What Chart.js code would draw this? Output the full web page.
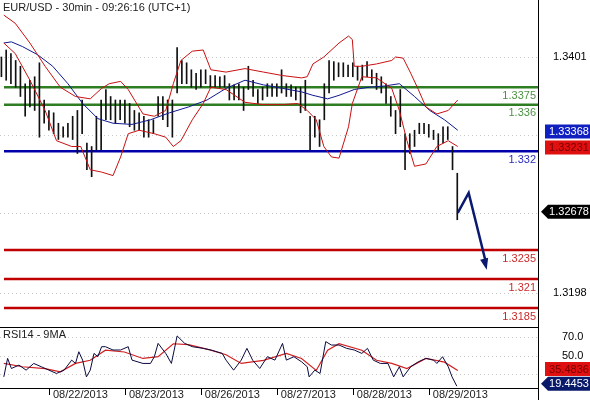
<!DOCTYPE html>
<html><head><meta charset="utf-8">
<script src="https://cdn.jsdelivr.net/npm/chart.js@4.4.0/dist/chart.umd.min.js"></script>
<style>html,body{margin:0;padding:0;background:#fff}#c{display:block}</style>
</head><body><div style="width:590px;height:400px"><canvas id="c"></canvas></div>
<script>
const highs=[1.3401,1.3407,1.3404,1.3398,1.3393,1.3378,1.3381,1.3384,1.3396,1.3364,1.3355,1.3353,1.3344,1.3341,1.3344,1.3350,1.3355,1.3364,1.3327,1.3324,1.3350,1.3364,1.3373,1.3367,1.3364,1.3364,1.3364,1.3361,1.3355,1.3353,1.3350,1.3347,1.3347,1.3367,1.3367,1.3364,1.3364,1.3409,1.3398,1.3396,1.3390,1.3387,1.3390,1.3390,1.3385,1.3385,1.3384,1.3385,1.3378,1.3377,1.3378,1.3375,1.3393,1.3381,1.3373,1.3375,1.3378,1.3378,1.3378,1.3390,1.3378,1.3377,1.3375,1.3375,1.3381,1.3350,1.3350,1.3347,1.3378,1.3398,1.3397,1.3396,1.3396,1.3394,1.3396,1.3393,1.3394,1.3397,1.3390,1.3387,1.3384,1.3378,1.3367,1.3355,1.3373,1.3335,1.3335,1.3338,1.3344,1.3344,1.3343,1.3338,1.3335,1.3341,1.3341,1.3324,1.3301];
const lows=[1.3384,1.3381,1.3378,1.3375,1.3367,1.3350,1.3358,1.3355,1.3332,1.3344,1.3338,1.3335,1.3330,1.3332,1.3332,1.3330,1.3318,1.3335,1.3304,1.3298,1.3321,1.3321,1.3347,1.3347,1.3344,1.3347,1.3344,1.3341,1.3338,1.3338,1.3332,1.3332,1.3335,1.3350,1.3347,1.3341,1.3332,1.3370,1.3378,1.3378,1.3375,1.3373,1.3375,1.3378,1.3375,1.3375,1.3375,1.3375,1.3364,1.3364,1.3364,1.3355,1.3373,1.3367,1.3361,1.3364,1.3367,1.3367,1.3367,1.3370,1.3367,1.3367,1.3364,1.3353,1.3355,1.3321,1.3332,1.3324,1.3347,1.3370,1.3381,1.3384,1.3384,1.3384,1.3384,1.3381,1.3381,1.3384,1.3378,1.3373,1.3370,1.3361,1.3350,1.3335,1.3341,1.3304,1.3318,1.3324,1.3335,1.3335,1.3332,1.3330,1.3321,1.3327,1.3330,1.3304,1.3261];
const maX=[0.5,2.1,4.4,7.6,10.8,14.0,17.1,20.3,23.5,27.5,31.4,35.4,39.4,43.3,47.3,51.3,55.2,59.2,63.2,65.6,68.7,71.1,74.3,77.5,80.6,83.8,87.0,90.2,93.3,96.1];
const maY=[1.3413,1.3414,1.3410,1.3403,1.3393,1.3378,1.3361,1.3348,1.3344,1.3343,1.3347,1.3353,1.3358,1.3364,1.3374,1.3381,1.3377,1.3374,1.3371,1.3368,1.3365,1.3368,1.3373,1.3375,1.3376,1.3378,1.3367,1.3355,1.3347,1.3338];
const upX=[0.5,2.9,6.0,9.2,12.4,15.6,18.7,21.1,22.7,25.1,26.7,29.8,32.2,34.6,36.2,37.8,40.2,42.5,44.1,47.3,51.3,55.2,59.2,63.2,64.4,65.6,67.9,71.1,73.1,73.9,74.3,75.9,79.0,82.2,83.0,84.6,86.2,87.8,89.4,91.7,94.1,96.1];
const upY=[1.3437,1.3430,1.3413,1.3393,1.3375,1.3367,1.3365,1.3374,1.3378,1.3380,1.3373,1.3352,1.3350,1.3355,1.3378,1.3398,1.3406,1.3407,1.3390,1.3388,1.3391,1.3388,1.3385,1.3383,1.3384,1.3395,1.3401,1.3413,1.3419,1.3416,1.3393,1.3393,1.3395,1.3398,1.3401,1.3400,1.3387,1.3373,1.3358,1.3352,1.3355,1.3364];
const loX=[0.5,2.9,6.0,9.2,11.6,14.8,16.7,18.7,21.1,23.5,25.1,26.7,29.0,32.2,34.6,36.2,37.8,40.2,42.5,44.1,47.3,51.3,55.2,59.2,62.4,64.4,66.3,67.9,69.5,71.1,73.1,73.9,75.9,79.0,82.2,83.8,85.4,87.0,89.4,91.7,94.1,96.1];
const loY=[1.3413,1.3404,1.3381,1.3355,1.3329,1.3324,1.3324,1.3304,1.3302,1.3299,1.3315,1.3335,1.3338,1.3335,1.3332,1.3324,1.3329,1.3347,1.3361,1.3375,1.3373,1.3362,1.3360,1.3360,1.3361,1.3355,1.3347,1.3324,1.3315,1.3314,1.3341,1.3361,1.3384,1.3383,1.3374,1.3355,1.3329,1.3307,1.3309,1.3324,1.3329,1.3324];
const rsiX=[0.5,1.3,2.1,3.7,5.2,6.8,8.4,10.0,11.6,13.2,14.8,15.6,16.3,17.1,17.9,18.7,19.5,20.3,21.1,21.9,23.5,25.1,26.7,27.5,29.8,31.4,32.2,33.0,34.6,35.8,37.0,38.6,40.2,42.5,44.1,46.5,47.3,48.9,50.5,51.7,52.9,54.4,56.0,57.6,59.2,60.0,61.6,63.2,64.4,64.8,66.0,67.1,68.3,69.5,71.1,72.7,74.3,75.9,77.1,78.3,79.8,81.4,82.6,83.8,84.6,86.2,87.8,89.4,91.0,91.7,92.9,94.1,94.9,95.9];
const rsiY=[27.0,47.1,36.1,39.8,34.3,41.6,38.0,34.3,30.7,34.3,45.2,41.6,54.3,45.2,27.0,34.3,52.5,48.9,59.8,59.8,56.2,56.2,59.8,45.2,41.6,41.6,48.9,63.4,52.5,41.6,71.5,63.4,59.8,58.0,56.2,52.5,45.2,34.3,45.2,58.0,45.2,36.1,48.9,45.2,63.4,45.2,48.9,43.4,38.0,27.0,34.3,30.7,65.3,61.6,61.6,58.0,56.2,52.5,58.0,45.2,41.6,41.6,27.0,38.0,27.0,38.0,43.4,47.1,45.2,41.6,48.9,38.0,27.0,16.9];
const rmaX=[0.5,4.4,9.2,12.4,15.6,18.7,21.9,25.9,29.8,33.0,36.2,39.4,44.1,47.3,50.5,55.2,60.0,63.2,66.3,68.7,71.1,75.9,79.0,82.2,85.4,89.4,93.3,96.1];
const rmaY=[41.6,38,36,32.5,41.6,45,56,54,47,49,63,62,56,51,41.6,45,52.5,47,34,56,63,56,45,41.6,36,47,43,34];
const arrowX=[96.1,98.4,102.2];
const arrowY=[1.3267,1.3284,1.3218];
const levels=[1.3375,1.336,1.332,1.3235,1.321,1.3185];
const levelLabels=['1.3375','1.336','1.332','1.3235','1.321','1.3185'];
const levelColors=['#2e7d22','#2e7d22','#0000aa','#c00000','#c00000','#c00000'];
const priceGrid=[1.3401,1.3334,1.3267,1.3198];
const rsiGrid=[70,50,30];
const dayPos=[10,26,42,58,74,90];
const dayLabels=['08/22/2013','08/23/2013','08/26/2013','08/27/2013','08/28/2013','08/29/2013'];
const badges=[['y',1.33368,'1.33368','#1020c0','#fff',false],['y',1.33231,'1.33231','#e01010','#700',false],['y',1.32678,'1.32678','#000','#fff',true],['y2',35.4836,'35.4836','#e01010','#700',false],['y2',19.4453,'19.4453','#0a1a6a','#fff',true]];

const pts=(xs,ys)=>xs.map((x,i)=>({x,y:ys[i]}));
const bars=highs.map((h,i)=>({x:i,y:[lows[i],h]}));
const line=(d,c,axis,w)=>({type:'line',data:d,borderColor:c,borderWidth:w||1,pointRadius:0,yAxisID:axis,tension:0,fill:false});
const XMIN=-0.3,XMAX=113;
const FONT='11px "Liberation Sans", Arial, sans-serif';

const deco={id:'deco',
 beforeDatasetsDraw(ch){const c=ch.ctx,a=ch.chartArea,y=ch.scales.y,r=ch.scales.y2;
  c.save();c.strokeStyle='#c8c8c8';c.setLineDash([1,3]);c.lineWidth=1;
  priceGrid.forEach(v=>{const py=Math.round(y.getPixelForValue(v))+.5;c.beginPath();c.moveTo(a.left,py);c.lineTo(a.right,py);c.stroke();});
  rsiGrid.forEach(v=>{const py=Math.round(r.getPixelForValue(v))+.5;c.beginPath();c.moveTo(a.left,py);c.lineTo(a.right,py);c.stroke();});
  c.setLineDash([]);
  levels.forEach((v,i)=>{const py=y.getPixelForValue(v);c.strokeStyle=levelColors[i];c.lineWidth=2.5;c.beginPath();c.moveTo(a.left+4,py);c.lineTo(a.right,py);c.stroke();
   c.fillStyle=levelColors[i];c.font=FONT;c.textAlign='right';c.textBaseline='top';c.globalAlpha=0.85;c.fillText(levelLabels[i],a.right-2,py+3);c.globalAlpha=1;});
  c.restore();},
 afterDatasetsDraw(ch){const c=ch.ctx,a=ch.chartArea,x=ch.scales.x,y=ch.scales.y,r=ch.scales.y2;
  c.save();
  const ax=arrowX.map(v=>x.getPixelForValue(v)),ay=arrowY.map(v=>y.getPixelForValue(v));
  c.strokeStyle='#0a1a70';c.lineWidth=2.5;c.beginPath();c.moveTo(ax[0],ay[0]);c.lineTo(ax[1],ay[1]);c.lineTo(ax[2]-1,ay[2]-8);c.stroke();
  const ang=Math.atan2(ay[2]-ay[1],ax[2]-ax[1]);c.fillStyle='#0a1a70';c.beginPath();c.moveTo(ax[2],ay[2]);
  c.lineTo(ax[2]-12*Math.cos(ang-0.35),ay[2]-12*Math.sin(ang-0.35));c.lineTo(ax[2]-12*Math.cos(ang+0.35),ay[2]-12*Math.sin(ang+0.35));c.closePath();c.fill();
  c.strokeStyle='#000';c.lineWidth=1;c.beginPath();
  c.moveTo(a.right+.5,0);c.lineTo(a.right+.5,400);
  const sep=Math.round(r.getPixelForValue(81.2))+.5;c.moveTo(0,sep);c.lineTo(a.right,sep);
  c.moveTo(0,a.bottom+.5);c.lineTo(a.right,a.bottom+.5);
  dayPos.forEach(d=>{const px=Math.round(x.getPixelForValue(d))+.5;c.moveTo(px,a.bottom);c.lineTo(px,a.bottom+7);});
  c.stroke();
  c.font=FONT;c.fillStyle='#222';c.textBaseline='middle';c.textAlign='left';
  dayLabels.forEach((t,i)=>c.fillText(t,x.getPixelForValue(dayPos[i])+4,a.bottom+7));
  c.fillText('EUR/USD - 30min - 09:26:16 (UTC+1)',3,8);
  c.fillText('RSI14 - 9MA',3,sep+7);
  c.fillStyle='#000';
  [1.3401,1.3198].forEach(v=>c.fillText(v.toFixed(4),553,y.getPixelForValue(v)));
  [70,50].forEach(v=>c.fillText(v.toFixed(1),562,r.getPixelForValue(v)));
  badges.forEach(([ax2,v,t,bg,fg,arrow])=>{const s=ch.scales[ax2];const py=s.getPixelForValue(v);
   c.fillStyle=bg;c.beginPath();if(arrow){c.moveTo(541,py);c.lineTo(548,py-7);c.lineTo(590,py-7);c.lineTo(590,py+7);c.lineTo(548,py+7);}else{c.rect(545,py-7,45,14);}c.fill();
   c.fillStyle=fg;c.textAlign='center';c.fillText(t,569,py+0.5);c.textAlign='left';});
  c.restore();}};

new Chart(document.getElementById('c'),{
 data:{datasets:[
  line(pts(upX,upY),'#c81010','y',1),
  line(pts(loX,loY),'#c81010','y',1),
  line(pts(maX,maY),'#101890','y',1),
  {type:'bar',data:bars,backgroundColor:'#111',borderWidth:0,barThickness:1,yAxisID:'y'},
  line(pts(rsiX,rsiY),'#0a0a40','y2',1),
  line(pts(rmaX,rmaY),'#d02020','y2',1.2)
 ]},
 options:{responsive:true,maintainAspectRatio:false,animation:false,
  layout:{padding:{left:0,right:52,top:0,bottom:12}},
  plugins:{legend:{display:false},tooltip:{enabled:false}},
  scales:{
   x:{type:'linear',min:XMIN,max:XMAX,offset:false,display:false},
   y:{type:'linear',min:1.31163,max:1.3450,display:false},
   y2:{type:'linear',min:14.9,max:436.6,display:false}
  }},
 plugins:[deco]});
</script></body></html>
